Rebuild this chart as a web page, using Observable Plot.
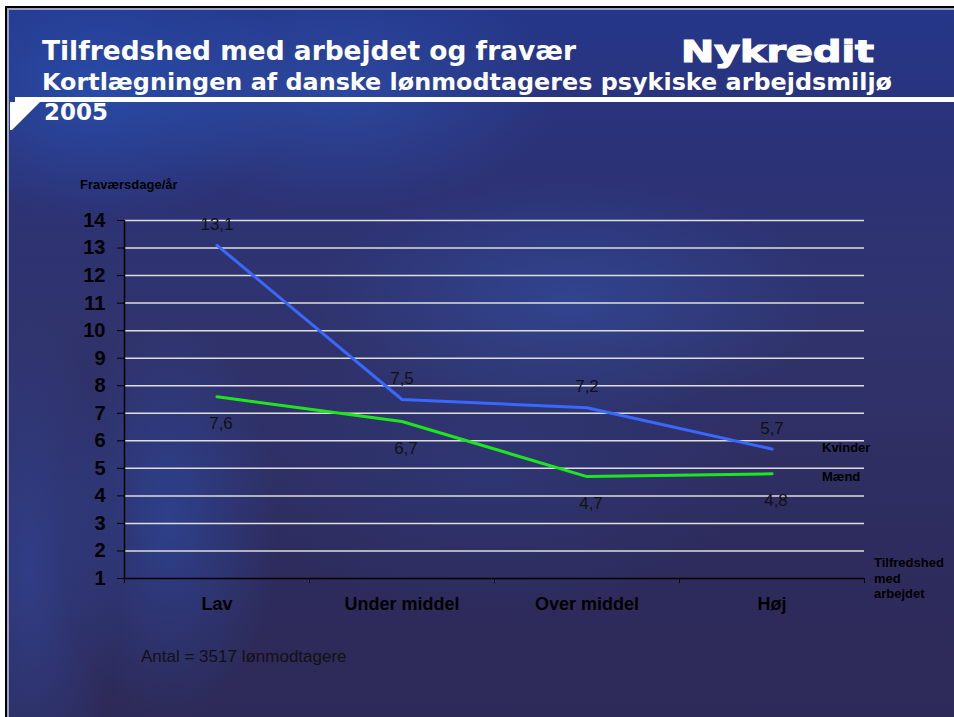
<!DOCTYPE html>
<html><head><meta charset="utf-8">
<script src="https://cdn.jsdelivr.net/npm/d3@7"></script>
<script src="https://cdn.jsdelivr.net/npm/@observablehq/plot@0.6"></script>
<style>
html,body{margin:0;padding:0;background:#fff;width:954px;height:717px;overflow:hidden;font-family:Arial,"Liberation Sans",sans-serif;}
.abs{position:absolute;}
#blk{left:5px;top:6px;width:949px;height:711px;background:#000;}
#lite{left:7px;top:8px;width:947px;height:709px;background:#9aa0c8;}
#slide{left:9px;top:10px;width:945px;height:707px;
 background:
  radial-gradient(ellipse 200px 130px at 90px 80px, rgba(40,85,185,0.7), rgba(40,85,185,0) 100%),
  radial-gradient(ellipse 220px 120px at 330px 80px, rgba(45,85,180,0.6), rgba(45,85,180,0) 100%),
  radial-gradient(ellipse 260px 120px at 560px 290px, rgba(50,85,175,0.5), rgba(50,85,175,0) 100%),
  radial-gradient(ellipse 110px 200px at 160px 510px, rgba(45,80,175,0.55), rgba(45,80,175,0) 100%),
  radial-gradient(ellipse 90px 260px at 20px 560px, rgba(50,80,175,0.5), rgba(50,80,175,0) 100%),
  radial-gradient(ellipse 260px 140px at 480px 460px, rgba(45,70,150,0.3), rgba(45,70,150,0) 100%),
  linear-gradient(to bottom, #25378a 0%, #2b3278 18%, #30336c 45%, #2e2c5e 75%, #2d2a58 100%);}
#band{left:15px;top:97px;width:939px;height:5px;background:#fff;}
.note{position:absolute;font-weight:bold;color:#000;font-size:13px;line-height:15.5px;}
#plotwrap{left:0;top:0;}
</style>
</head><body>
<div id="blk" class="abs"></div>
<div id="lite" class="abs"></div>
<div id="slide" class="abs"></div>
<div id="band" class="abs"></div>
<svg id="head" class="abs" style="left:0;top:0" width="954" height="717"></svg>
<div class="note" style="left:80px;top:177px;">Fraværsdage/år</div>
<div class="note" style="left:822px;top:440px;">Kvinder</div>
<div class="note" style="left:822px;top:469px;">Mænd</div>
<div class="note" style="left:874px;top:555px;">Tilfredshed<br>med<br>arbejdet</div>
<div class="abs" style="left:141px;top:647px;font-size:17px;color:#111;">Antal = 3517 lønmodtagere</div>
<div id="plotwrap" class="abs"></div>
<script>
// ---- data ----
const categories = ["Lav", "Under middel", "Over middel", "Høj"];
const kvinder = [13.1, 7.5, 7.2, 5.7];
const maend = [7.6, 6.7, 4.7, 4.8];
const yTicks = [1, 2, 3, 4, 5, 6, 7, 8, 9, 10, 11, 12, 13, 14];
const titleText = "Tilfredshed med arbejdet og fravær";
const subtitleText = "Kortlægningen af danske lønmodtageres psykiske arbejdsmiljø";
const yearText = "2005";
const logoText = "Nykredit";

// ---- header ----
const head = d3.select("#head");
head.append("polygon").attr("points", "10,102 40,102 12,130 10,130").attr("fill", "#fff");
const ht = (t, x, y, size, len, sw) => head.append("text").attr("x", x).attr("y", y)
  .attr("font-family", "'DejaVu Sans', Verdana, sans-serif").attr("font-weight", "bold")
  .attr("font-size", size).attr("fill", "#fff")
  .attr("stroke", sw ? "#fff" : null).attr("stroke-width", sw || null)
  .attr("textLength", len).attr("lengthAdjust", "spacingAndGlyphs").text(t);
ht(titleText, 42, 60, 27, 534);
ht(subtitleText, 42, 90, 22.5, 850);
ht(yearText, 44, 120, 22.5, 64);
ht(logoText, 681, 62, 31, 193, 1.2);

// ---- chart ----
const fmt = v => v.toFixed(1).replace(".", ",");
const kRows = categories.map((c, i) => ({i, c, v: kvinder[i]}));
const mRows = categories.map((c, i) => ({i, c, v: maend[i]}));
const bounds = [-0.5, 0.5, 1.5, 2.5, 3.5];

const chart = Plot.plot({
  width: 954, height: 717,
  marginLeft: 124, marginRight: 90, marginTop: 220, marginBottom: 139,
  style: {background: "transparent", fontFamily: "Arial, 'Liberation Sans', sans-serif", color: "#000"},
  x: {type: "linear", domain: [-0.5, 3.5]},
  y: {domain: [1, 14]},
  marks: [
    Plot.ruleY(yTicks.slice(1), {stroke: "#dedede", strokeWidth: 1.5}),
    Plot.axisY({ticks: yTicks, tickSize: 7, tickPadding: 12, fontSize: 20, fontWeight: "bold", label: null, stroke: "#000", tickFormat: d => String(d)}),
    Plot.axisX({ticks: bounds, tickSize: 5, tickFormat: () => "", label: null, stroke: "#000"}),
    Plot.axisX({ticks: [0, 1, 2, 3], tickSize: 0, tickPadding: 19, tickFormat: i => categories[i], fontSize: 18, fontWeight: "bold", label: null}),
    Plot.ruleX([-0.5], {stroke: "#000", strokeWidth: 1.5, y1: 1, y2: 14}),
    Plot.ruleY([1], {stroke: "#000", strokeWidth: 1.5}),
    Plot.line(kRows, {x: "i", y: "v", stroke: "#3868ff", strokeWidth: 3}),
    Plot.line(mRows, {x: "i", y: "v", stroke: "#1ee61e", strokeWidth: 3}),
    Plot.text(kRows, {x: "i", y: "v", text: d => fmt(d.v), dy: -21, fontSize: 17, fill: "#111"}),
    Plot.text(mRows, {x: "i", y: "v", text: d => fmt(d.v), dx: 4, dy: 27, fontSize: 17, fill: "#111"})
  ]
});
document.getElementById("plotwrap").appendChild(chart);
</script>
</body></html>
